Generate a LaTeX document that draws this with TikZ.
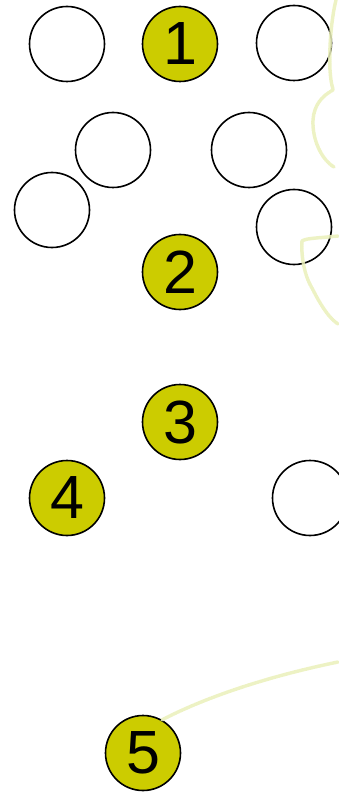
\documentclass[tikz,border=0pt]{standalone}
\usepackage{fontspec}
\setmainfont{Liberation Sans}
\definecolor{olive}{RGB}{204,204,0}
\definecolor{paleline}{RGB}{234,240,186}
\begin{document}
\begin{tikzpicture}[x=1pt,y=-1pt,
  ring/.style={circle,draw=black,line width=1.6pt,minimum size=75pt,inner sep=0pt,fill=white},
  num/.style={ring,fill=olive,font=\fontsize{61}{61}\selectfont},
  faint/.style={draw=paleline,line width=3.5pt,line cap=round,line join=round,dash pattern=on 1.2pt off 0.6pt}]
\useasboundingbox (0,0) rectangle (338,794);
% circles
\node[ring] (c1) at (67,44) {};
\node[num]  (n1) at (180,44) {1};
\node[ring] (c2) at (294,43) {};
\node[ring] (c3) at (113,150) {};
\node[ring] (c4) at (249,150) {};
\node[ring] (c5) at (52,210) {};
\node[ring] (c6) at (294,227) {};
\node[num]  (n2) at (180,272) {2};
\node[num]  (n3) at (180,422) {3};
\node[num]  (n4) at (67,498) {4};
\node[ring] (c7) at (310,498) {};
\node[num]  (n5) at (143,753) {5};
% faint background traces
\begin{scope}[opacity=0.85]
\draw[faint] (336,0) .. controls (331,20) and (329,50) .. (330,70)
  .. controls (331,85) and (333,88) .. (333,90)
  .. controls (322,96) and (314,105) .. (313,120)
  .. controls (312,140) and (322,160) .. (334,167);
\draw[faint] (338,236) .. controls (320,238) and (306,238) .. (302,241)
  .. controls (301,255) and (304,275) .. (312,288)
  .. controls (318,300) and (328,318) .. (338,324);
\draw[faint] (n5.60) .. controls (200,700) and (260,678) .. (338,662);
\end{scope}
\end{tikzpicture}
\end{document}
